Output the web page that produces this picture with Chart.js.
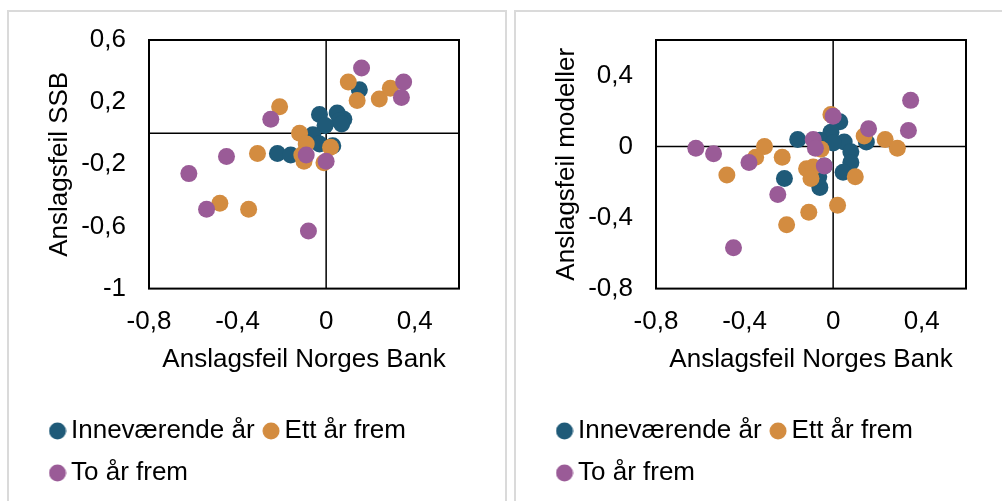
<!DOCTYPE html>
<html>
<head>
<meta charset="utf-8">
<script src="https://cdn.jsdelivr.net/npm/chart.js@4.4.1/dist/chart.umd.min.js"></script>
<style>
  html, body { margin: 0; padding: 0; background: #fff; overflow: hidden; }
  .panel { position: absolute; top: 10px; width: 496px; height: 500px; border: 2px solid #dadada; }
  #p1 { left: 7px; }
  #p2 { left: 514px; }
  canvas { display: block; }
</style>
</head>
<body>
<div class="panel" id="p1"><canvas id="ssb" width="496" height="485"></canvas></div>
<div class="panel" id="p2"><canvas id="mod" width="496" height="485"></canvas></div>
<script>
// series names and colours
const seriesNames = ['Inneværende år', 'Ett år frem', 'To år frem'];
const seriesColors = ['#1F5A78', '#D38C40', '#9A5B97'];

// tick labels
const xTicks = [-0.8, -0.4, 0, 0.4];
const ssbYTicks = [-1, -0.6, -0.2, 0.2, 0.6];
const modYTicks = [-0.8, -0.4, 0, 0.4];

// left chart: [Norges Bank error, SSB error]
const ssbInnevaerende = [
  [0.15, 0.28], [-0.03, 0.12], [0.05, 0.13], [0.08, 0.09], [0.06, 0.08], [0.07, 0.06],
  [-0.005, 0.05], [-0.06, -0.01], [-0.03, -0.07], [0.03, -0.08], [-0.22, -0.13], [-0.16, -0.14]
];
const ssbEttAr = [
  [0.10, 0.33], [0.14, 0.21], [0.24, 0.22], [0.29, 0.29], [-0.21, 0.17], [-0.12, 0.00],
  [-0.09, -0.07], [0.02, -0.09], [-0.31, -0.13], [-0.11, -0.14], [-0.10, -0.18], [-0.01, -0.19],
  [-0.48, -0.45], [-0.35, -0.49]
];
const ssbToAr = [
  [0.16, 0.42], [0.35, 0.33], [0.34, 0.23], [-0.25, 0.09], [-0.45, -0.15], [-0.62, -0.26],
  [-0.54, -0.49], [-0.08, -0.63], [-0.09, -0.14], [0.00, -0.18]
];

// right chart: [Norges Bank error, model error]
const modInnevaerende = [
  [0.03, 0.14], [-0.01, 0.08], [-0.16, 0.04], [-0.06, 0.035], [0.05, 0.025], [0.00, 0.02],
  [0.08, -0.03], [0.08, -0.09], [0.045, -0.145], [-0.22, -0.18], [-0.06, -0.23], [0.15, 0.025],
  [-0.065, -0.17], [-0.04, -0.11]
];
const modEttAr = [
  [-0.01, 0.18], [0.14, 0.06], [0.235, 0.04], [0.29, -0.01], [-0.31, 0.00], [-0.35, -0.06],
  [-0.48, -0.16], [-0.23, -0.06], [-0.12, -0.125], [-0.09, -0.115], [-0.10, -0.18], [-0.055, -0.015],
  [0.10, -0.17], [0.02, -0.33], [-0.11, -0.37], [-0.21, -0.44]
];
const modToAr = [
  [0.35, 0.26], [0.34, 0.09], [0.16, 0.10], [0.00, 0.17], [-0.62, -0.01], [-0.54, -0.04],
  [-0.38, -0.09], [-0.25, -0.27], [-0.45, -0.57], [-0.09, 0.04], [-0.08, -0.01], [-0.04, -0.11]
];

const FONT = 'Liberation Sans, Arial, sans-serif';
const SIZE = 26;
const fmt = v => String(Math.round(v * 10) / 10).replace('.', ',');

function dot(color) {
  const c = document.createElement('canvas');
  c.width = c.height = 18;
  const g = c.getContext('2d');
  g.fillStyle = color;
  g.beginPath();
  g.arc(9, 9, 8.5, 0, Math.PI * 2);
  g.fill();
  return c;
}
const dots = seriesColors.map(dot);

// plot frame and zero lines
const frame = {
  id: 'frame',
  beforeDatasetsDraw(chart) {
    const { ctx, chartArea: a, scales: { x, y } } = chart;
    const x0 = x.getPixelForValue(0), y0 = y.getPixelForValue(0);
    ctx.save();
    ctx.strokeStyle = '#000';
    ctx.lineWidth = 1.5;
    ctx.beginPath();
    ctx.moveTo(x0, a.top); ctx.lineTo(x0, a.bottom);
    ctx.moveTo(a.left, y0); ctx.lineTo(a.right, y0);
    ctx.stroke();
    ctx.lineWidth = 2;
    ctx.strokeRect(a.left, a.top, a.right - a.left, a.bottom - a.top);
    ctx.restore();
  }
};

function makeChart(id, yTitle, yMin, yTicks, sets) {
  const datasets = sets.map((pts, i) => ({
    label: seriesNames[i],
    data: pts.map(p => ({ x: p[0], y: p[1] })),
    backgroundColor: seriesColors[i],
    borderWidth: 0,
    pointRadius: 8.5,
    pointHoverRadius: 8.5,
    order: 3 - i
  }));
  return new Chart(document.getElementById(id), {
    type: 'scatter',
    data: { datasets },
    plugins: [frame],
    options: {
      responsive: false,
      animation: false,
      layout: { padding: { left: 32, top: 28, right: 46, bottom: 1 } },
      scales: {
        x: {
          type: 'linear', min: -0.8, max: 0.6,
          afterBuildTicks: s => { s.ticks = xTicks.map(v => ({ value: v })); },
          grid: { display: false, drawTicks: true, tickLength: 18 },
          border: { display: false },
          ticks: { padding: 0, color: '#000', font: { family: FONT, size: SIZE }, callback: fmt },
          title: { display: true, text: 'Anslagsfeil Norges Bank', color: '#000',
                   font: { family: FONT, size: SIZE }, padding: { top: 6, bottom: 27 } }
        },
        y: {
          type: 'linear', min: yMin, max: 0.6,
          afterBuildTicks: s => { s.ticks = yTicks.map(v => ({ value: v })); },
          grid: { display: false, drawTicks: true, tickLength: 23 },
          border: { display: false },
          ticks: { padding: 0, color: '#000', font: { family: FONT, size: SIZE }, callback: fmt },
          title: { display: true, text: yTitle, color: '#000',
                   font: { family: FONT, size: SIZE }, padding: { top: 3, bottom: 6 } }
        }
      },
      plugins: {
        tooltip: { enabled: false },
        legend: {
          position: 'bottom',
          align: 'start',
          labels: {
            usePointStyle: true,
            boxWidth: 1,
            padding: 16,
            color: '#000',
            font: { family: FONT, size: SIZE },
            sort: (a, b) => a.datasetIndex - b.datasetIndex,
            generateLabels: chart => Chart.defaults.plugins.legend.labels.generateLabels(chart)
              .map(l => Object.assign(l, { pointStyle: dots[l.datasetIndex] }))
          }
        }
      }
    }
  });
}

makeChart('ssb', 'Anslagsfeil SSB', -1, ssbYTicks, [ssbInnevaerende, ssbEttAr, ssbToAr]);
makeChart('mod', 'Anslagsfeil modeller', -0.8, modYTicks, [modInnevaerende, modEttAr, modToAr]);
</script>
</body>
</html>
